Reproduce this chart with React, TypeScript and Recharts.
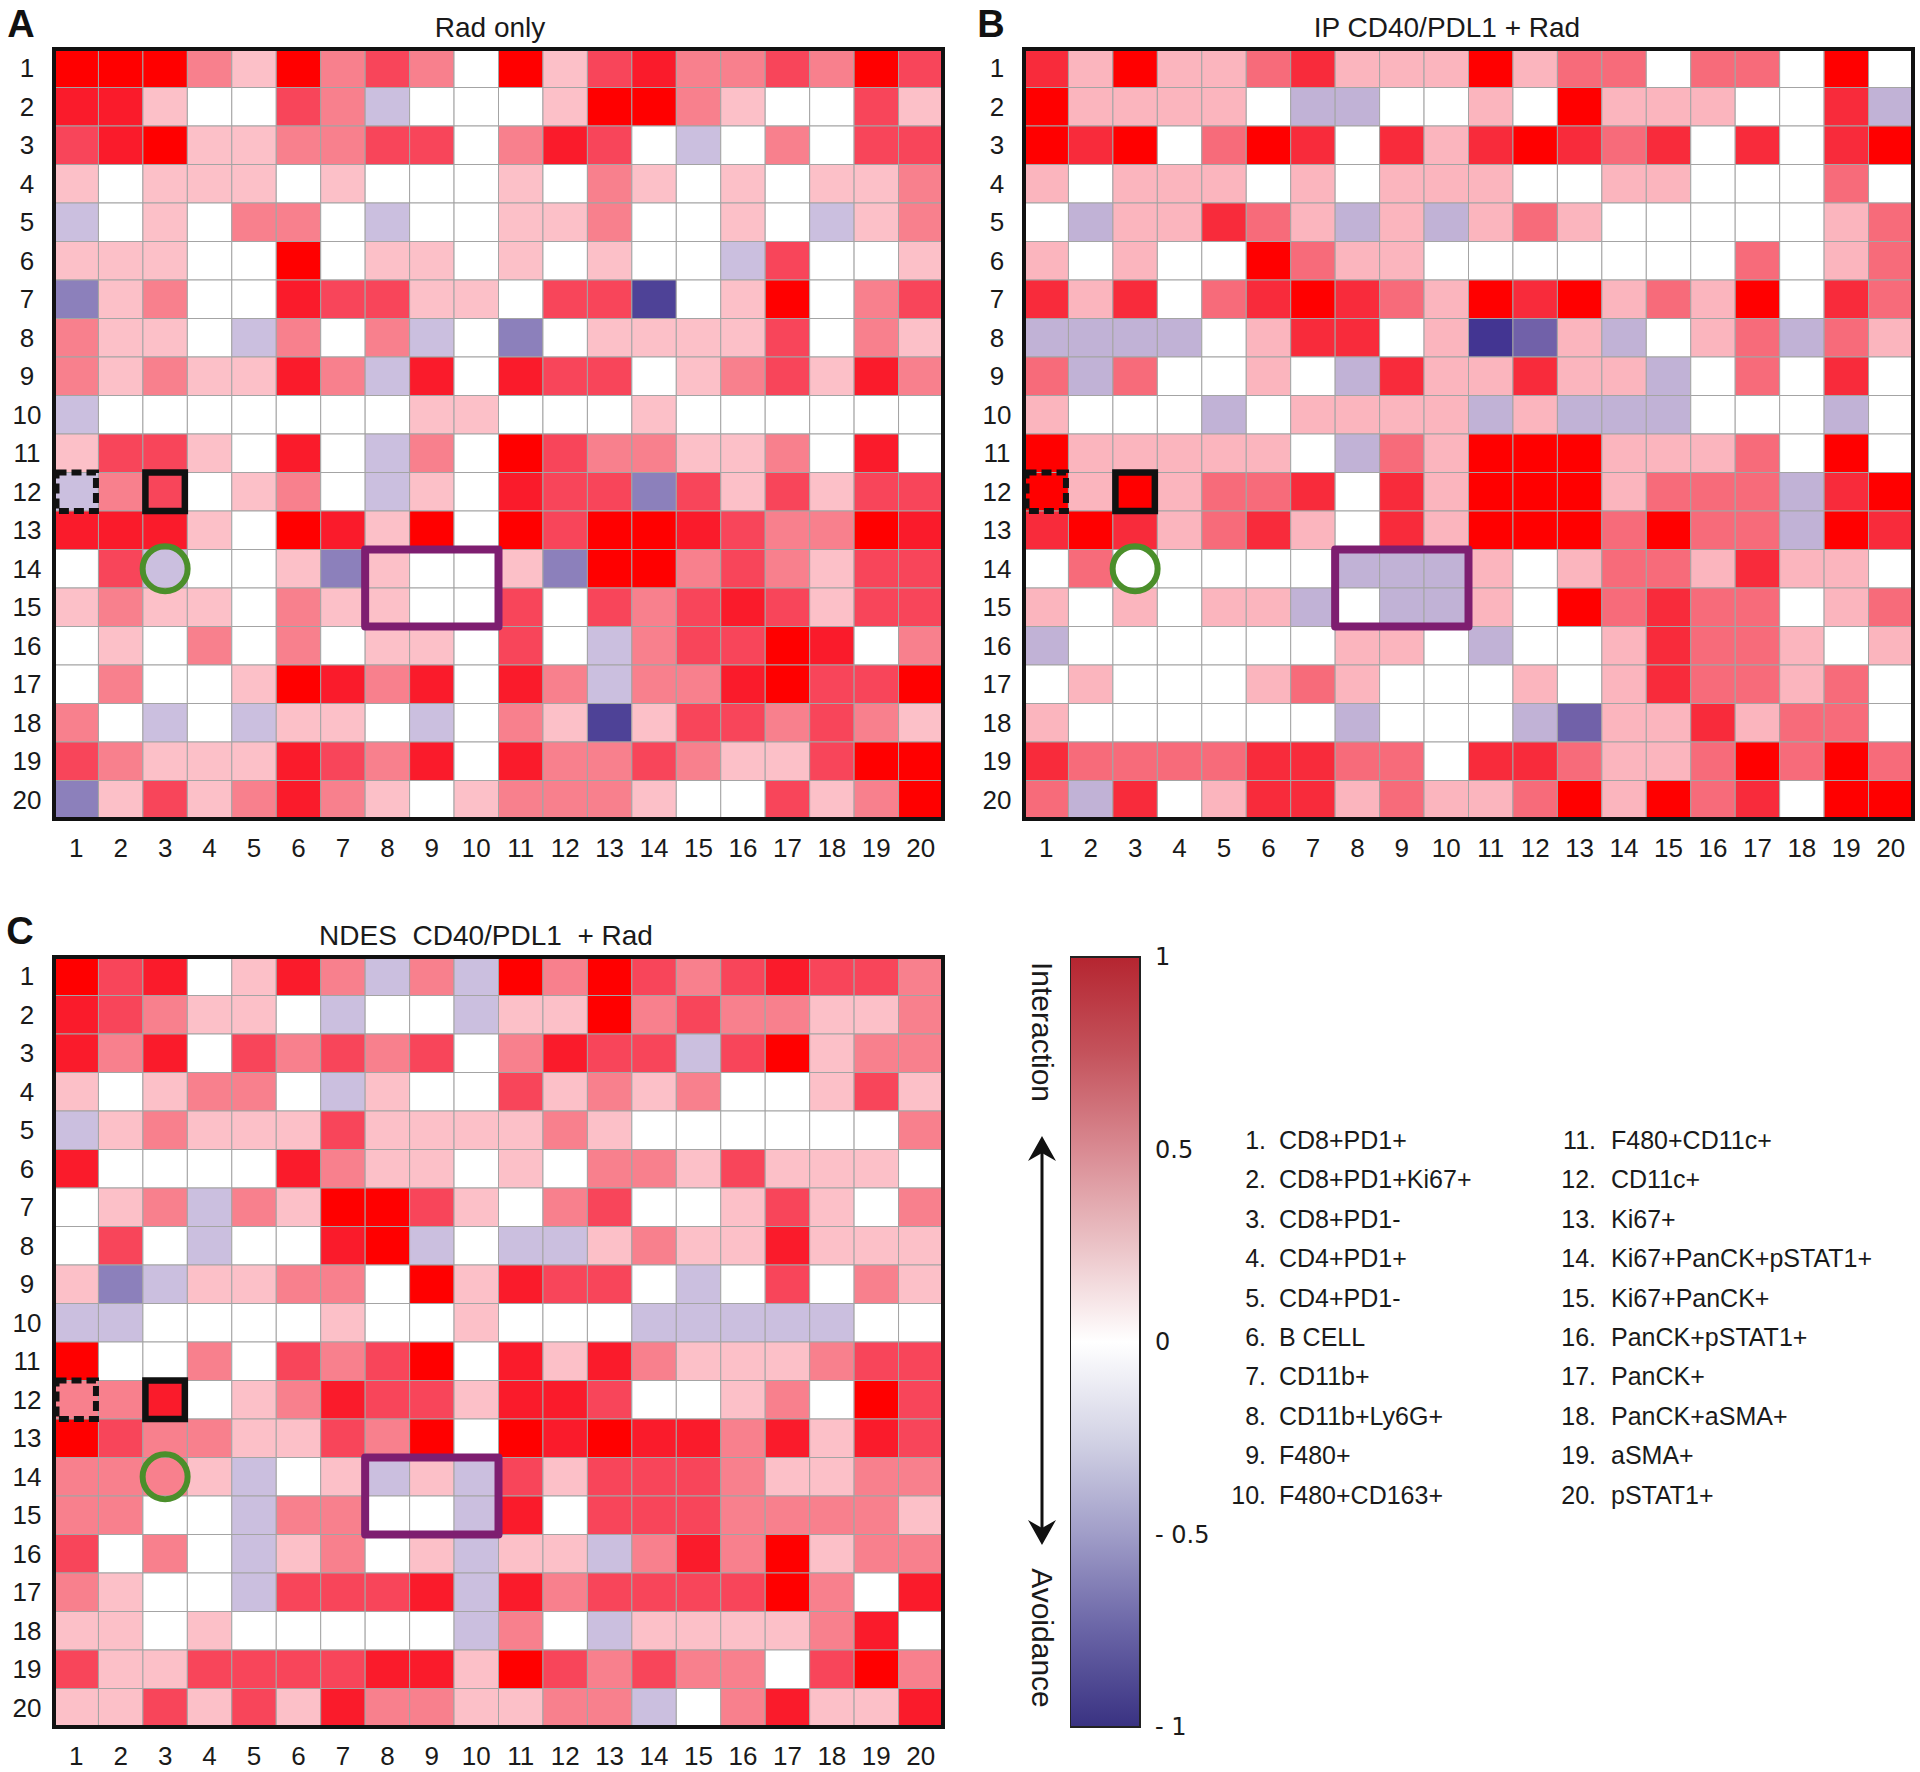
import React from "react";
import { ScatterChart, Scatter, XAxis, YAxis, ReferenceArea, ReferenceDot } from "recharts";

// ---------- data ----------
const cellTypes = [
  "CD8+PD1+", "CD8+PD1+Ki67+", "CD8+PD1-", "CD4+PD1+", "CD4+PD1-",
  "B CELL", "CD11b+", "CD11b+Ly6G+", "F480+", "F480+CD163+",
  "F480+CD11c+", "CD11c+", "Ki67+", "Ki67+PanCK+pSTAT1+", "Ki67+PanCK+",
  "PanCK+pSTAT1+", "PanCK+", "PanCK+aSMA+", "aSMA+", "pSTAT1+",
];
const indexTicks = [1, 2, 3, 4, 5, 6, 7, 8, 9, 10, 11, 12, 13, 14, 15, 16, 17, 18, 19, 20];
const colorbarTicks = [1, 0.5, 0, -0.5, -1];
const panelTitles = ["Rad only", "IP CD40/PDL1 + Rad", "NDES  CD40/PDL1  + Rad"];
const panelLetters = ["A", "B", "C"];

// highlighted cells / regions (column, row, span in cells)
const annotationBoxes = [
  { x: 10.5, y: 10.5, w: 20, h: 20, kind: "frame" },
  { x: 1, y: 12, w: 1, h: 1, kind: "dashed" },
  { x: 3, y: 12, w: 1, h: 1, kind: "solid" },
  { x: 9, y: 14.5, w: 3, h: 2, kind: "purple" },
];
const annotationCircle = { x: 3, y: 14 };

const radOnly = [
  [.95, .95, .95, .45, .2, .95, .45, .65, .45, 0, .95, .2, .65, .8, .45, .45, .65, .45, .95, .65],
  [.8, .8, .2, 0, 0, .65, .45, -.25, 0, 0, 0, .2, .95, .95, .45, .2, 0, 0, .65, .2],
  [.65, .8, .95, .2, .2, .45, .45, .65, .65, 0, .45, .8, .65, 0, -.25, 0, .45, 0, .65, .65],
  [.2, 0, .2, .2, .2, 0, .2, 0, 0, 0, .2, 0, .45, .2, 0, .2, 0, .2, .2, .45],
  [-.25, 0, .2, 0, .45, .45, 0, -.25, 0, 0, .2, .2, .45, 0, 0, .2, 0, -.25, .2, .45],
  [.2, .2, .2, 0, 0, .95, 0, .2, .2, 0, .2, 0, .2, 0, 0, -.25, .65, 0, 0, .2],
  [-.55, .2, .45, 0, 0, .8, .65, .65, .2, .2, 0, .65, .65, -.85, 0, .2, .95, 0, .45, .65],
  [.45, .2, .2, 0, -.25, .45, 0, .45, -.25, 0, -.55, 0, .2, .2, .2, .2, .65, 0, .45, .2],
  [.45, .2, .45, .2, .2, .8, .45, -.25, .8, 0, .8, .65, .65, 0, .2, .45, .65, .2, .8, .45],
  [-.25, 0, 0, 0, 0, 0, 0, 0, .2, .2, 0, 0, 0, .2, 0, 0, 0, 0, 0, 0],
  [.2, .65, .65, .2, 0, .8, 0, -.25, .45, 0, .95, .65, .45, .45, .2, .2, .45, 0, .8, 0],
  [-.25, .45, .65, 0, .2, .45, 0, -.25, .2, 0, .8, .65, .65, -.55, .65, .2, .65, .2, .65, .65],
  [.8, .8, .8, .2, 0, .95, .8, .2, .95, 0, .95, .65, .95, .95, .8, .65, .45, .45, .95, .8],
  [0, .65, -.25, 0, 0, .2, -.55, .2, 0, 0, .2, -.55, .95, .95, .45, .65, .45, .2, .65, .65],
  [.2, .45, .2, .2, 0, .45, .2, .2, 0, 0, .65, 0, .65, .45, .65, .8, .65, .2, .65, .65],
  [0, .2, 0, .45, 0, .45, 0, .2, .2, 0, .65, 0, -.25, .45, .65, .65, .95, .8, 0, .45],
  [0, .45, 0, 0, .2, .95, .8, .45, .8, 0, .8, .45, -.25, .45, .45, .8, .95, .65, .65, .95],
  [.45, 0, -.25, 0, -.25, .2, .2, 0, -.25, 0, .45, .2, -.85, .2, .65, .65, .45, .65, .45, .2],
  [.65, .45, .2, .2, .2, .8, .65, .45, .8, 0, .8, .45, .45, .65, .45, .2, .2, .65, .95, .95],
  [-.55, .2, .65, .2, .45, .8, .45, .2, 0, .2, .45, .45, .45, .2, 0, 0, .65, .2, .45, .95],
];

const ipCd40Pdl1Rad = [
  [.8, .2, .95, .2, .2, .45, .8, .2, .2, .2, .95, .2, .45, .45, 0, .45, .45, 0, .95, 0],
  [.95, .2, .2, .2, .2, 0, -.25, -.25, 0, 0, .2, 0, .95, .2, .2, .2, 0, 0, .8, -.25],
  [.95, .8, .95, 0, .45, .95, .8, 0, .8, .2, .8, .95, .8, .45, .8, 0, .8, 0, .8, .95],
  [.2, 0, .2, .2, .2, 0, .2, 0, .2, .2, .2, 0, 0, .2, .2, 0, 0, 0, .45, 0],
  [0, -.25, .2, .2, .8, .45, .2, -.25, .2, -.25, .2, .45, .2, 0, 0, 0, 0, 0, .2, .45],
  [.2, 0, .2, 0, 0, .95, .45, .2, .2, 0, 0, 0, 0, 0, 0, 0, .45, 0, .2, .45],
  [.8, .2, .8, 0, .45, .8, .95, .8, .45, .2, .95, .8, .95, .2, .45, .2, .95, 0, .8, .45],
  [-.25, -.25, -.25, -.25, 0, .2, .8, .8, 0, .2, -.9, -.6, .2, -.25, 0, .2, .45, -.25, .45, .2],
  [.45, -.25, .45, 0, 0, .2, 0, -.25, .8, .2, .2, .8, .2, .2, -.25, 0, .45, 0, .8, 0],
  [.2, 0, 0, 0, -.25, 0, .2, .2, .2, .2, -.25, .2, -.25, -.25, -.25, 0, 0, 0, -.25, 0],
  [.95, .2, .2, .2, .2, .2, 0, -.25, .45, .2, .95, .95, .95, .2, .2, .2, .45, 0, .95, 0],
  [.95, .2, .95, .2, .45, .45, .8, 0, .8, .2, .95, .95, .95, .2, .45, .45, .45, -.25, .8, .95],
  [.8, .95, .8, .2, .45, .8, .2, 0, .8, .2, .95, .95, .95, .45, .95, .45, .45, -.25, .95, .8],
  [0, .45, 0, 0, 0, 0, 0, -.25, -.25, -.25, .2, 0, .2, .45, .45, .2, .8, .2, .2, 0],
  [.2, 0, .2, 0, .2, .2, -.25, 0, -.25, -.25, .2, 0, .95, .45, .8, .45, .45, 0, .2, .45],
  [-.25, 0, 0, 0, 0, 0, 0, .2, .2, 0, -.25, 0, 0, .2, .8, .45, .45, .2, 0, .2],
  [0, .2, 0, 0, 0, .2, .45, .2, 0, 0, 0, .2, 0, .2, .8, .45, .45, .2, .45, 0],
  [.2, 0, 0, 0, 0, 0, 0, -.25, 0, 0, 0, -.25, -.6, .2, .2, .8, .2, .45, .45, 0],
  [.8, .45, .45, .45, .45, .8, .8, .45, .45, 0, .8, .8, .45, .2, .2, .45, .95, .45, .95, .45],
  [.45, -.25, .8, 0, .2, .8, .8, .2, .45, .2, .2, .45, .95, .2, .95, .45, .8, 0, .95, .95],
];

const ndesCd40Pdl1Rad = [
  [.95, .65, .8, 0, .2, .8, .45, -.25, .45, -.25, .95, .45, .95, .65, .45, .65, .8, .65, .65, .45],
  [.8, .65, .45, .2, .2, 0, -.25, 0, 0, -.25, .2, .2, .95, .45, .65, .45, .45, .2, .2, .45],
  [.8, .45, .8, 0, .65, .45, .65, .45, .65, 0, .45, .8, .65, .65, -.25, .65, .95, .2, .45, .45],
  [.2, 0, .2, .45, .45, 0, -.25, .2, 0, 0, .65, .2, .45, .2, .45, 0, 0, .2, .65, .2],
  [-.25, .2, .45, .2, .2, .2, .65, .2, .2, .2, .2, .45, .2, 0, 0, 0, 0, 0, 0, .45],
  [.8, 0, 0, 0, 0, .8, .45, .2, .2, 0, .2, 0, .45, .45, .2, .65, .2, .2, .2, 0],
  [0, .2, .45, -.25, .45, .2, .95, .95, .65, .2, 0, .45, .65, 0, 0, .2, .65, .2, 0, .45],
  [0, .65, 0, -.25, 0, 0, .8, .95, -.25, 0, -.25, -.25, .2, .45, .2, .2, .8, .2, .2, .2],
  [.2, -.5, -.25, .2, .2, .45, .45, 0, .95, .2, .8, .65, .65, 0, -.25, 0, .65, 0, .45, .2],
  [-.25, -.25, 0, 0, 0, 0, .2, 0, 0, .2, 0, 0, 0, -.25, -.25, -.25, -.25, -.25, 0, 0],
  [.95, 0, 0, .45, 0, .65, .45, .65, .95, 0, .8, .2, .8, .45, .2, .2, .2, .45, .65, .65],
  [.45, .45, .8, 0, .2, .45, .8, .65, .65, .2, .8, .8, .65, 0, 0, .2, .45, 0, .95, .65],
  [.95, .65, .45, .45, .2, .2, .65, .45, .95, 0, .95, .8, .95, .8, .8, .45, .8, .2, .8, .65],
  [.45, .45, .45, .2, -.25, 0, .2, -.25, .2, -.25, .65, .2, .65, .65, .65, .45, .2, .2, .45, .45],
  [.45, .45, 0, 0, -.25, .45, .45, 0, 0, -.25, .8, 0, .65, .65, .65, .45, .45, .45, .45, .2],
  [.65, 0, .45, 0, -.25, .2, .45, 0, .2, -.25, .2, .2, -.25, .45, .8, .45, .95, .2, .45, .45],
  [.45, .2, 0, 0, -.25, .65, .65, .65, .8, -.25, .8, .45, .65, .65, .65, .65, .95, .45, 0, .8],
  [.2, .2, 0, .2, 0, 0, 0, 0, 0, -.25, .45, 0, -.25, .2, .2, .2, .2, .45, .8, 0],
  [.65, .2, .2, .65, .65, .65, .65, .8, .8, .2, .95, .65, .45, .65, .45, .45, 0, .65, .95, .45],
  [.2, .2, .65, .2, .65, .2, .8, .45, .45, .2, .2, .45, .45, -.25, 0, .45, .8, .2, .2, .8],
];

// ---------- styles ----------
const FONT = "'Liberation Sans', Arial, sans-serif";
const TICK_FONT = "'DejaVu Sans', Verdana, sans-serif";

type Palette = { r5: string; r4: string; r3: string; p2: string; p1: string; w: string; l1: string; l2: string; l3: string; l4: string };
const paletteAC: Palette = { r5: "#FF0000", r4: "#FA1B2B", r3: "#F8455A", p2: "#F8808D", p1: "#FCC0C8", w: "#FFFFFF", l1: "#CBBFDF", l2: "#8C80BB", l3: "#7161A9", l4: "#4E4297" };
const paletteB: Palette = { r5: "#FF0000", r4: "#F82B3B", r3: "#F8455A", p2: "#F76B7A", p1: "#FBB5BE", w: "#FFFFFF", l1: "#C1B2D6", l2: "#8C80BB", l3: "#7161A9", l4: "#433592" };

function cellColor(v: number, p: Palette) {
  if (v >= 0.9) return p.r5;
  if (v >= 0.72) return p.r4;
  if (v >= 0.55) return p.r3;
  if (v >= 0.32) return p.p2;
  if (v >= 0.1) return p.p1;
  if (v > -0.1) return p.w;
  if (v > -0.4) return p.l1;
  if (v > -0.57) return p.l2;
  if (v > -0.7) return p.l3;
  return p.l4;
}

const boxStyles: Record<string, { stroke: string; strokeWidth: number; dash?: string; join: string }> = {
  frame: { stroke: "#111", strokeWidth: 4, join: "miter" },
  dashed: { stroke: "#111", strokeWidth: 6, dash: "10 5", join: "miter" },
  solid: { stroke: "#111", strokeWidth: 6.5, join: "miter" },
  purple: { stroke: "#7E1E70", strokeWidth: 8, join: "round" },
};

const GRID_W = 889;
const GRID_H = 770;
const M_TOP = 49;
const Y_W = 54;

function HeatPanel({ rows, left, top, palette }: { rows: number[][]; left: number; top: number; palette: Palette }) {
  const data = rows.flatMap((row, ri) => row.map((v, ci) => ({ x: indexTicks[ci], y: indexTicks[ri], v })));
  const cw = GRID_W / 20;
  const ch = GRID_H / 20;
  const shape = (props: any) => {
    const { cx, cy, payload } = props;
    return (
      <rect x={cx - cw / 2} y={cy - ch / 2} width={cw} height={ch} fill={cellColor(payload.v, palette)} stroke="#A4A4A4" strokeWidth={1} />
    );
  };
  const boxShape = (props: any) => {
    const { cx, cy, payload } = props;
    const s = boxStyles[payload.kind];
    const w = payload.w * cw;
    const h = payload.h * ch;
    const small = payload.kind === "dashed" || payload.kind === "solid";
    const inset = small ? 2.5 : 0;
    return (
      <rect
        x={cx - w / 2 + inset}
        y={cy - h / 2}
        width={w - 2 * inset}
        height={h}
        fill="none"
        stroke={s.stroke}
        strokeWidth={s.strokeWidth}
        strokeDasharray={s.dash}
        strokeLinejoin={s.join as any}
      />
    );
  };
  const xTick = (props: any) => (
    <text x={props.x} y={M_TOP + GRID_H + 29} textAnchor="middle" dominantBaseline="central" fontSize={26} fontFamily={FONT} fill="#1a1a1a">
      {props.payload.value}
    </text>
  );
  const yTick = (props: any) => (
    <text x={Y_W - 27} y={props.y} textAnchor="middle" dominantBaseline="central" fontSize={26} fontFamily={FONT} fill="#1a1a1a">
      {props.payload.value}
    </text>
  );
  return (
    <div style={{ position: "absolute", left: left - Y_W, top: top - M_TOP }}>
      <ScatterChart width={Y_W + GRID_W + 5} height={M_TOP + GRID_H + 60} margin={{ top: M_TOP, left: 0, right: 5, bottom: 0 }}>
        <XAxis type="number" dataKey="x" domain={[0.5, 20.5]} ticks={indexTicks} interval={0} axisLine={false} tickLine={false} tick={xTick} height={60} />
        <YAxis type="number" dataKey="y" domain={[0.5, 20.5]} ticks={indexTicks} interval={0} reversed axisLine={false} tickLine={false} tick={yTick} width={Y_W} />
        <Scatter data={data} shape={shape} isAnimationActive={false} />
        <Scatter data={annotationBoxes} shape={boxShape} isAnimationActive={false} />
        <ReferenceDot x={annotationCircle.x} y={annotationCircle.y} r={22.5} fill="none" fillOpacity={0} stroke="#4B8F2B" strokeWidth={6} />
      </ScatterChart>
    </div>
  );
}

function ColorBar() {
  const tickData = colorbarTicks.map((t) => ({ x: 0.5, y: t }));
  const fmt = (v: number) => (v < 0 ? `- ${Math.abs(v)}` : String(v));
  const yTick = (props: any) => (
    <text x={85} y={props.y} textAnchor="start" dominantBaseline="central" fontSize={24} fontFamily={TICK_FONT} fill="#1a1a1a">
      {fmt(props.payload.value)}
    </text>
  );
  return (
    <div style={{ position: "absolute", left: 1070, top: 937 }}>
      <ScatterChart width={200} height={810} margin={{ top: 20, bottom: 20, left: 0, right: 0 }}>
        <XAxis type="number" dataKey="x" domain={[0, 1]} hide />
        <YAxis type="number" dataKey="y" domain={[-1, 1]} ticks={colorbarTicks} orientation="right" axisLine={false} tickLine={false} tick={yTick} width={130} interval={0} />
        <Scatter data={tickData} shape={() => <g />} isAnimationActive={false} />
        <ReferenceArea x1={0} x2={1} y1={-1} y2={1} fill="url(#cbarGrad)" fillOpacity={1} stroke="#222" strokeWidth={2} />
      </ScatterChart>
    </div>
  );
}

function Arrowhead({ x, y, dir }: { x: number; y: number; dir: 1 | -1 }) {
  const pts = [
    [x, y],
    [x - 14, y + dir * 25],
    [x, y + dir * 17],
    [x + 14, y + dir * 25],
  ].map((p) => p.join(",")).join(" ");
  return <polygon points={pts} fill="#111" />;
}

export default function App() {
  const panels = [
    { rows: radOnly, left: 54, top: 49, palette: paletteAC, titleX: 490, titleY: 37, letterX: 21, letterY: 37 },
    { rows: ipCd40Pdl1Rad, left: 1024, top: 49, palette: paletteB, titleX: 1447, titleY: 37, letterX: 991, letterY: 37 },
    { rows: ndesCd40Pdl1Rad, left: 54, top: 957, palette: paletteAC, titleX: 486, titleY: 945, letterX: 20, letterY: 944 },
  ];
  return (
    <div style={{ position: "absolute", left: 0, top: 0, width: 1920, height: 1772, background: "#fff", overflow: "hidden" }}>
      {panels.map((p, i) => (
        <HeatPanel key={i} rows={p.rows} left={p.left} top={p.top} palette={p.palette} />
      ))}
      <ColorBar />
      <svg width={1920} height={1772} style={{ position: "absolute", left: 0, top: 0, pointerEvents: "none" }}>
        <defs>
          <linearGradient id="cbarGrad" x1="0" y1="0" x2="0" y2="1">
            <stop offset="0" stopColor="#B52530" />
            <stop offset="0.125" stopColor="#C4535C" />
            <stop offset="0.25" stopColor="#D98A92" />
            <stop offset="0.375" stopColor="#EBC3C7" />
            <stop offset="0.5" stopColor="#FFFFFF" />
            <stop offset="0.625" stopColor="#D3D3E5" />
            <stop offset="0.75" stopColor="#A09DC8" />
            <stop offset="0.875" stopColor="#6964A6" />
            <stop offset="1" stopColor="#393282" />
          </linearGradient>
        </defs>
        {panels.map((p, i) => (
          <g key={i}>
            <text x={p.letterX} y={p.letterY} textAnchor="middle" fontSize={38} fontWeight="bold" fontFamily={FONT} fill="#111">
              {panelLetters[i]}
            </text>
            <text x={p.titleX} y={p.titleY} textAnchor="middle" fontSize={28} fontFamily={FONT} fill="#1a1a1a" style={{ whiteSpace: "pre" }}>
              {panelTitles[i]}
            </text>
          </g>
        ))}
        <line x1={1042} y1={1150} x2={1042} y2={1531} stroke="#111" strokeWidth={3} />
        <Arrowhead x={1042} y={1136} dir={1} />
        <Arrowhead x={1042} y={1545} dir={-1} />
        <text transform="translate(1042,1032) rotate(90)" textAnchor="middle" dominantBaseline="central" fontSize={30} fontFamily={FONT} fill="#1a1a1a">
          Interaction
        </text>
        <text transform="translate(1042,1638) rotate(90)" textAnchor="middle" dominantBaseline="central" fontSize={30} fontFamily={FONT} fill="#1a1a1a">
          Avoidance
        </text>
        {cellTypes.map((name, i) => {
          const col = i < 10 ? 0 : 1;
          const row = i % 10;
          const y = 1140 + row * 39.4;
          const numX = col === 0 ? 1266 : 1596;
          const nameX = col === 0 ? 1279 : 1611;
          return (
            <g key={name}>
              <text x={numX} y={y} textAnchor="end" dominantBaseline="central" fontSize={25} fontFamily={FONT} fill="#1a1a1a">
                {`${indexTicks[i]}.`}
              </text>
              <text x={nameX} y={y} textAnchor="start" dominantBaseline="central" fontSize={25} fontFamily={FONT} fill="#1a1a1a">
                {name}
              </text>
            </g>
          );
        })}
      </svg>
    </div>
  );
}
